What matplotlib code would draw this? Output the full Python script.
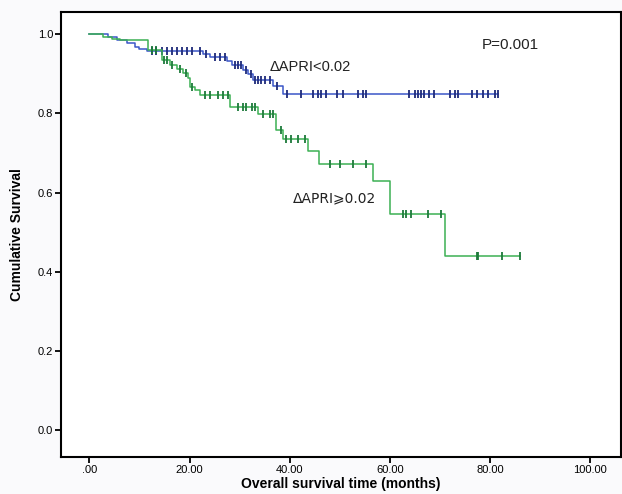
"""Krzywe Kaplana-Meiera dla dwóch grup ΔAPRI."""
import matplotlib
matplotlib.use("Agg")
import matplotlib.pyplot as plt

# grupa ΔAPRI<0.02: momenty zdarzeń i przeżycie po nich
low_times = [0, 3.7, 5.5, 7.4, 9.1, 9.9, 11.4, 22.7, 24.0, 27.4, 28.4, 30.7, 31.7, 32.6, 36.6, 38.7]
low_surv = [1.0, 0.992, 0.985, 0.977, 0.968, 0.962, 0.956, 0.950, 0.942, 0.932, 0.921, 0.910,
            0.898, 0.885, 0.868, 0.849]
low_end = 81.6
low_censored = [12.5, 13.2, 14.4, 15.4, 16.4, 17.4, 18.4, 19.4, 20.4, 22.0, 23.2, 25.0, 26.0, 27.0,
                29.0, 29.6, 30.2, 31.2, 32.2, 33.0, 33.6, 34.2, 35.0, 36.0, 37.5, 39.5, 42.3, 44.7,
                45.6, 46.3, 47.3, 49.4, 50.6, 53.6, 54.6, 55.3, 63.8, 65.0, 65.6, 66.3, 66.9, 67.9,
                68.9, 71.9, 72.9, 73.6, 76.3, 77.3, 78.6, 79.6, 80.9, 81.6]

# grupa ΔAPRI>=0.02
high_times = [0, 2.7, 4.5, 6.0, 11.7, 14.4, 16.0, 17.4, 18.7, 19.7, 20.0, 21.0, 22.0, 28.0, 33.7,
              37.3, 38.7, 43.7, 45.8, 56.6, 60.0, 70.9]
high_surv = [1.0, 0.993, 0.988, 0.984, 0.960, 0.934, 0.922, 0.913, 0.901, 0.888, 0.867, 0.859,
             0.846, 0.817, 0.799, 0.759, 0.734, 0.704, 0.673, 0.629, 0.547, 0.441]
high_end = 86.0
high_censored = [12.5, 13.2, 14.8, 15.5, 16.5, 18.0, 19.2, 20.5, 23.0, 24.0, 25.7, 26.7, 27.7,
                 29.7, 30.7, 31.3, 32.4, 33.0, 34.7, 36.0, 36.7, 38.3, 39.3, 40.3, 41.7, 43.0,
                 48.0, 50.0, 52.6, 55.3, 62.6, 63.3, 64.3, 67.6, 70.3, 77.3, 77.6, 82.3, 86.0]

x_ticks = [0, 20, 40, 60, 80, 100]
x_labels = [".00", "20.00", "40.00", "60.00", "80.00", "100.00"]
y_ticks = [0.0, 0.2, 0.4, 0.6, 0.8, 1.0]

plt.rcParams["font.family"] = ["Liberation Sans", "DejaVu Sans"]


def surv_at(times, surv, t):
    s = surv[0]
    for ti, si in zip(times, surv):
        if ti <= t:
            s = si
    return s


def draw_km(ax, times, surv, end, censored, line_color, mark_color):
    xs = list(times) + [end]
    ys = list(surv) + [surv[-1]]
    ax.step(xs, ys, where="post", color=line_color, lw=1.1)
    cy = [surv_at(times, surv, t) for t in censored]
    ax.plot(censored, cy, ls="none", marker="|", ms=6, mew=1.3, color=mark_color)


fig = plt.figure(figsize=(6.22, 4.94), dpi=100, facecolor="#fafafc")
ax = fig.add_axes([0.098, 0.075, 0.900, 0.901])
ax.set_facecolor("white")

draw_km(ax, low_times, low_surv, low_end, low_censored, "#3a56c8", "#1e2a7a")
draw_km(ax, high_times, high_surv, high_end, high_censored, "#3cb054", "#1d7a3a")

ax.text(36.0, 0.917, "ΔAPRI<0.02", fontsize=10.5, va="center", color="#222222")
ax.text(40.6, 0.586, "ΔAPRI⩾0.02", fontsize=10, va="center", color="#222222",
        family=["DejaVu Sans", "Liberation Sans"])
ax.text(78.3, 0.972, "P=0.001", fontsize=11, va="center", color="#222222")

ax.set_xlim(-5.7, 106.1)
ax.set_ylim(-0.067, 1.056)
ax.set_xticks(x_ticks)
ax.set_xticklabels(x_labels)
ax.set_yticks(y_ticks)
ax.set_yticklabels([f"{v:.1f}" for v in y_ticks])
ax.tick_params(direction="out", length=4, width=1.3, labelsize=8, pad=1.5)
for sp in ax.spines.values():
    sp.set_linewidth(1.5)

ax.set_xlabel("Overall survival time (months)", fontsize=10, fontweight="bold", labelpad=2)
ax.set_ylabel("Cumulative Survival", fontsize=10, fontweight="bold", labelpad=10)

fig.savefig("out.png", dpi=100, facecolor=fig.get_facecolor())
plt.close(fig)
